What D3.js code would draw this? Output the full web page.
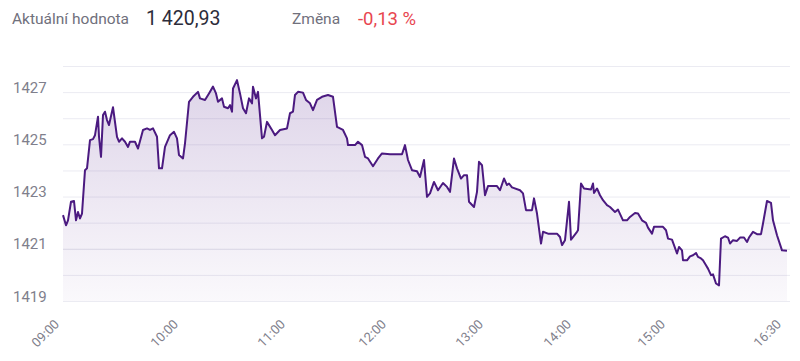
<!DOCTYPE html>
<html>
<head>
<meta charset="utf-8">
<script src="https://cdn.jsdelivr.net/npm/d3@7"></script>
<style>
  body { margin:0; background:#fff; font-family: Roboto, "Noto Sans", sans-serif; }
  svg { display:block; }
</style>
</head>
<body>
<svg id="chart" width="800" height="361"></svg>
<script>
// ---- data (ordinal point index within the trading session, price) ----
const pointIndex = [0,3,5,8,11,13,15,17,19,22,24,27,30,32,35,36,38,40,42,44,46,50,54,56,59,62,65,67,72,75,80,84,87,90,94,96,99,102,107,111,114,116,120,122,126,130,135,137,142,146,150,153,155,159,161,165,167,169,170,174,177,180,183,186,189,190,193,195,199,201,204,209,212,217,224,227,230,232,235,240,243,247,250,254,259,265,270,274,277,280,284,285,292,295,299,302,305,310,315,319,327,339,342,345,349,354,357,361,364,367,371,375,380,384,387,391,394,398,401,404,406,411,414,416,419,422,425,434,437,441,444,446,449,457,460,463,469,471,474,478,480,485,494,497,499,502,506,508,510,514,515,518,521,528,530,531,534,537,540,544,547,552,555,560,564,567,572,575,579,583,585,589,591,600,603,605,609,611,614,616,619,620,624,627,630,633,635,638,640,643,645,648,650,653,656,658,662,665,667,670,674,677,681,684,686,690,694,698,700,704,708,710,714,719,724];
const price = [1422.29,1421.90,1422.09,1422.80,1422.83,1422.09,1422.41,1422.16,1422.35,1424.01,1424.08,1425.16,1425.20,1425.35,1426.06,1425.29,1424.52,1426.12,1426.25,1425.93,1425.74,1426.42,1425.29,1425.10,1425.23,1425.10,1424.90,1425.10,1425.10,1424.84,1425.55,1425.61,1425.55,1425.61,1425.29,1424.08,1424.08,1424.90,1425.35,1425.48,1425.23,1424.59,1424.46,1425.04,1426.63,1426.82,1427.01,1426.76,1426.70,1426.95,1427.21,1426.95,1426.63,1426.76,1426.44,1426.38,1426.50,1426.25,1427.14,1427.46,1426.95,1426.38,1426.19,1426.76,1426.57,1427.21,1426.76,1427.01,1425.23,1425.29,1425.86,1425.55,1425.35,1425.55,1425.61,1426.19,1426.25,1426.89,1427.01,1426.98,1426.70,1426.57,1426.31,1426.70,1426.82,1426.89,1426.82,1425.67,1425.61,1425.55,1425.23,1424.97,1424.97,1425.10,1424.97,1424.52,1424.46,1424.16,1424.46,1424.65,1424.62,1424.62,1424.97,1424.40,1424.01,1423.97,1423.75,1424.40,1422.99,1423.12,1423.56,1423.24,1423.52,1423.37,1423.18,1424.46,1424.08,1423.69,1423.82,1423.82,1422.80,1422.60,1423.18,1424.33,1424.20,1423.05,1423.40,1423.40,1423.24,1423.69,1423.44,1423.50,1423.35,1423.24,1423.12,1422.48,1422.48,1422.93,1422.35,1421.20,1421.65,1421.58,1421.58,1421.45,1421.14,1421.33,1422.80,1421.35,1421.45,1421.65,1421.71,1423.50,1423.31,1423.27,1423.50,1423.14,1423.31,1423.05,1422.86,1422.67,1422.60,1422.41,1422.50,1422.09,1422.09,1422.22,1422.37,1422.35,1422.09,1421.99,1421.81,1421.58,1421.84,1421.84,1421.71,1421.39,1421.35,1421.14,1420.82,1421.07,1420.94,1420.56,1420.56,1420.71,1420.75,1420.84,1420.69,1420.63,1420.56,1420.37,1420.24,1419.99,1420.02,1419.67,1419.60,1421.39,1421.48,1421.43,1421.20,1421.33,1421.30,1421.43,1421.43,1421.26,1421.43,1421.65,1421.56,1421.56,1421.97,1422.83,1422.76,1422.09,1421.52,1420.94,1420.92];

const xTickIndex = [0, 119, 226, 327, 424, 512, 606, 722];
const xTickLabels = ["09:00","10:00","11:00","12:00","13:00","14:00","15:00","16:30"];
const yGridValues = [1419,1420,1421,1422,1423,1424,1425,1426,1427,1428];
const yLabelValues = [1419,1421,1423,1425,1427];

const headerLabel = "Aktuální hodnota";
const headerValue = "1 420,93";
const changeLabel = "Změna";
const changeValue = "-0,13 %";

// ---- layout ----
const svg = d3.select("#chart");
const plotLeft = 63, plotRight = 790, plotTop = 66, plotBottom = 301;

const x = d3.scaleLinear().domain([0, 727]).range([plotLeft, plotRight]);
const y = d3.scaleLinear().domain([1419, 1428]).range([plotBottom, plotTop]);

const data = pointIndex.map((d, i) => ({ i: d, v: price[i] }));

// header
const hdr = svg.append("g").attr("font-family", "Roboto, 'Noto Sans', sans-serif");
hdr.append("text").attr("x", 12).attr("y", 24).attr("font-size", 15.5).attr("fill", "#70707c").text(headerLabel);
hdr.append("text").attr("x", 146).attr("y", 24.5).attr("font-size", 19.5).attr("fill", "#2c2c3a").text(headerValue);
hdr.append("text").attr("x", 292).attr("y", 24).attr("font-size", 15.5).attr("fill", "#70707c").text(changeLabel);
hdr.append("text").attr("x", 358).attr("y", 24.5).attr("font-size", 18.5).attr("fill", "#e8464f").text(changeValue);

// gradient
const defs = svg.append("defs");
const grad = defs.append("linearGradient").attr("id", "areaGrad")
  .attr("x1", 0).attr("y1", 0).attr("x2", 0).attr("y2", 1);
grad.append("stop").attr("offset", "0%").attr("stop-color", "#5a2a90").attr("stop-opacity", 0.2);
grad.append("stop").attr("offset", "100%").attr("stop-color", "#5a2a90").attr("stop-opacity", 0.03);

// grid
const grid = svg.append("g").attr("transform", `translate(${plotLeft},0)`)
  .call(d3.axisLeft(y).tickValues(yGridValues).tickSize(-(plotRight - plotLeft)).tickFormat(""));
grid.select(".domain").remove();
grid.selectAll(".tick line").attr("stroke", "#ebebf2").attr("stroke-width", 1);
grid.selectAll(".tick").filter(d => d === 1421).select("line").attr("stroke", "#e2e2ea");

// y labels
const yl = svg.append("g").attr("transform", "translate(13,0)")
  .call(d3.axisRight(y).tickValues(yLabelValues).tickSize(0).tickFormat(d3.format("d")));
yl.select(".domain").remove();
yl.selectAll("text").attr("x", 0).attr("dy", 0).attr("text-anchor", "start")
  .attr("font-family", "Roboto, 'Noto Sans', sans-serif").attr("font-size", 15).attr("fill", "#7f7f8c");

// area + line
const area = d3.area().x(d => x(d.i)).y0(plotBottom).y1(d => y(d.v));
const line = d3.line().x(d => x(d.i)).y(d => y(d.v));
svg.append("path").datum(data).attr("d", area).attr("fill", "url(#areaGrad)");
svg.append("path").datum(data).attr("d", line).attr("fill", "none")
  .attr("stroke", "#4b1a80").attr("stroke-width", 2).attr("stroke-linejoin", "round");

// x labels
const xa = svg.append("g").attr("transform", `translate(0,${plotBottom})`)
  .call(d3.axisBottom(x).tickValues(xTickIndex).tickSize(0).tickFormat((d, i) => xTickLabels[i]));
xa.select(".domain").remove();
xa.selectAll("text")
  .attr("font-family", "Roboto, 'Noto Sans', sans-serif").attr("font-size", 13).attr("fill", "#7f7f8c")
  .attr("text-anchor", "end").attr("y", 0).attr("dy", 0)
  .attr("transform", "translate(-3.5,24) rotate(-45)");
</script>
</body>
</html>
